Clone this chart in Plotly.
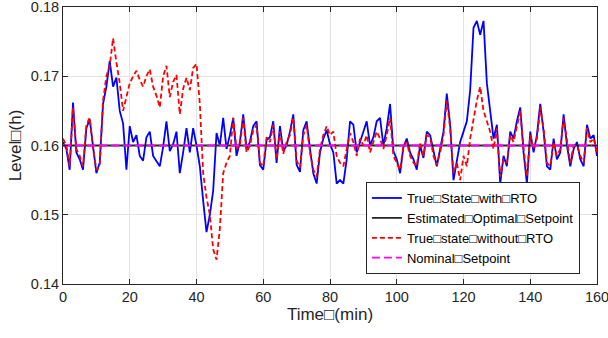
import plotly.graph_objects as go

time_min = list(range(0, 161))

true_state_with_rto = [
    0.1605, 0.1595, 0.1565, 0.1662, 0.1590, 0.1580, 0.1565, 0.1625, 0.1638, 0.1600,
    0.1560, 0.1575, 0.1660, 0.1685, 0.1722, 0.1685, 0.1698, 0.1650, 0.1632, 0.1565,
    0.1628, 0.1605, 0.1615, 0.1585, 0.1578, 0.1612, 0.1620, 0.1585, 0.1578, 0.1570,
    0.1598, 0.1635, 0.1592, 0.1602, 0.1620, 0.1560, 0.1590, 0.1625, 0.1590, 0.1625,
    0.1600, 0.1570, 0.1520, 0.1475, 0.1500, 0.1535, 0.1618, 0.1600, 0.1640, 0.1595,
    0.1615, 0.1640, 0.1585, 0.1605, 0.1645, 0.1595, 0.1605, 0.1628, 0.1635, 0.1572,
    0.1565, 0.1608, 0.1612, 0.1635, 0.1575, 0.1628, 0.1592, 0.1600, 0.1620, 0.1645,
    0.1572, 0.1562, 0.1622, 0.1635, 0.1595, 0.1560, 0.1545, 0.1590, 0.1610, 0.1622,
    0.1602, 0.1590, 0.1545, 0.1550, 0.1545, 0.1580, 0.1635, 0.1630, 0.1590, 0.1605,
    0.1620, 0.1635, 0.1600, 0.1612, 0.1635, 0.1640, 0.1600, 0.1625, 0.1660, 0.1592,
    0.1580, 0.1560, 0.1598, 0.1610, 0.1590, 0.1580, 0.1565, 0.1600, 0.1582, 0.1620,
    0.1615, 0.1590, 0.1570, 0.1595, 0.1620, 0.1675, 0.1630, 0.1550, 0.1580, 0.1605,
    0.1620, 0.1635, 0.1680, 0.1770, 0.1780, 0.1760, 0.1780, 0.1690, 0.1650, 0.1610,
    0.1630, 0.1545, 0.1585, 0.1570, 0.1620, 0.1610, 0.1635, 0.1655, 0.1590, 0.1545,
    0.1620, 0.1590, 0.1615, 0.1660, 0.1620, 0.1570, 0.1565, 0.1610, 0.1580, 0.1590,
    0.1645, 0.1600, 0.1570, 0.1595, 0.1605, 0.1580, 0.1570, 0.1630, 0.1610, 0.1615,
    0.1585,
]

true_state_without_rto = [
    0.1610, 0.1600, 0.1570, 0.1655, 0.1595, 0.1585, 0.1570, 0.1630, 0.1640, 0.1595,
    0.1565, 0.1570, 0.1665, 0.1700, 0.1715, 0.1755, 0.1720, 0.1690, 0.1650, 0.1668,
    0.1690, 0.1700, 0.1708, 0.1695, 0.1685, 0.1700, 0.1710, 0.1685, 0.1672, 0.1655,
    0.1700, 0.1715, 0.1670, 0.1692, 0.1702, 0.1645, 0.1682, 0.1698, 0.1680, 0.1712,
    0.1718, 0.1660, 0.1560, 0.1525, 0.1500, 0.1450, 0.1435, 0.1480, 0.1560, 0.1575,
    0.1585, 0.1640, 0.1595, 0.1600, 0.1640, 0.1590, 0.1600, 0.1622, 0.1630, 0.1575,
    0.1570, 0.1612, 0.1605, 0.1630, 0.1580, 0.1620, 0.1588, 0.1605, 0.1615, 0.1640,
    0.1578, 0.1568, 0.1615, 0.1630, 0.1590, 0.1565, 0.1555, 0.1595, 0.1615, 0.1628,
    0.1615, 0.1620, 0.1585, 0.1575, 0.1570, 0.1595, 0.1618, 0.1605, 0.1585, 0.1610,
    0.1600, 0.1615, 0.1590, 0.1605, 0.1620, 0.1610, 0.1595, 0.1615, 0.1640, 0.1585,
    0.1575, 0.1565, 0.1600, 0.1605, 0.1585, 0.1575, 0.1570, 0.1605, 0.1585, 0.1615,
    0.1612, 0.1585, 0.1572, 0.1590, 0.1615, 0.1665, 0.1625, 0.1560, 0.1575, 0.1550,
    0.1585, 0.1570, 0.1610, 0.1640, 0.1665, 0.1685, 0.1650, 0.1635, 0.1620, 0.1595,
    0.1625, 0.1555, 0.1580, 0.1575, 0.1615, 0.1605, 0.1630, 0.1650, 0.1595, 0.1555,
    0.1615, 0.1595, 0.1610, 0.1655, 0.1625, 0.1575, 0.1570, 0.1605, 0.1585, 0.1595,
    0.1640, 0.1605, 0.1575, 0.1600, 0.1600, 0.1585, 0.1575, 0.1625, 0.1605, 0.1610,
    0.1590,
]

setpoint_time = [0, 160]
estimated_optimal_setpoint = [0.16, 0.16]
nominal_setpoint = [0.16, 0.16]

x_ticks = [0, 20, 40, 60, 80, 100, 120, 140, 160]
y_ticks = [0.14, 0.15, 0.16, 0.17, 0.18]
y_tick_labels = ["0.14", "0.15", "0.16", "0.17", "0.18"]

FONT = "Liberation Sans, Arial, sans-serif"

fig = go.Figure()
fig.add_trace(go.Scatter(x=time_min, y=true_state_with_rto, mode="lines",
                         name="True\u25a1State\u25a1with\u25a1RTO",
                         line=dict(color="#0000ff", width=1.8)))
fig.add_trace(go.Scatter(x=setpoint_time, y=estimated_optimal_setpoint, mode="lines",
                         name="Estimated\u25a1Optimal\u25a1Setpoint",
                         line=dict(color="#262626", width=1.8)))
fig.add_trace(go.Scatter(x=time_min, y=true_state_without_rto, mode="lines",
                         name="True\u25a1state\u25a1without\u25a1RTO",
                         line=dict(color="#ff0000", width=1.8, dash="5px,3px")))
fig.add_trace(go.Scatter(x=setpoint_time, y=nominal_setpoint, mode="lines",
                         name="Nominal\u25a1Setpoint",
                         line=dict(color="#ff00ff", width=1.8, dash="8px,4px")))

axis_common = dict(showline=True, linecolor="#262626", linewidth=1, mirror="ticks",
                   ticks="inside", ticklen=5, tickcolor="#262626",
                   showgrid=True, gridcolor="#e3e3e3", gridwidth=1, zeroline=False,
                   automargin=False, ticklabeloverflow="allow",
                   tickfont=dict(family=FONT, size=14.5, color="#262626"))

fig.update_layout(
    width=608, height=338,
    margin=dict(l=63, r=11, t=7, b=54),
    paper_bgcolor="white", plot_bgcolor="white",
    font=dict(family=FONT, color="#262626"),
    xaxis=dict(range=[0, 160], tickmode="array", tickvals=x_ticks,
               title=dict(text="Time\u25a1(min)", font=dict(family=FONT, size=17), standoff=0),
               **axis_common),
    yaxis=dict(range=[0.14, 0.18], tickmode="array", tickvals=y_ticks, ticktext=y_tick_labels,
               title=dict(text="Level\u25a1(h)", font=dict(family=FONT, size=17), standoff=4),
               **axis_common),
    legend=dict(x=0.968, y=0.036, xanchor="right", yanchor="bottom",
                bgcolor="white", bordercolor="#262626", borderwidth=1,
                font=dict(family=FONT, size=13, color="#000000"),
                itemwidth=30, tracegroupgap=0),
    showlegend=True,
)

fig.write_html("out.html", config={"displayModeBar": False},
               post_script="document.body.style.margin='0px';document.body.style.overflow='hidden';")
